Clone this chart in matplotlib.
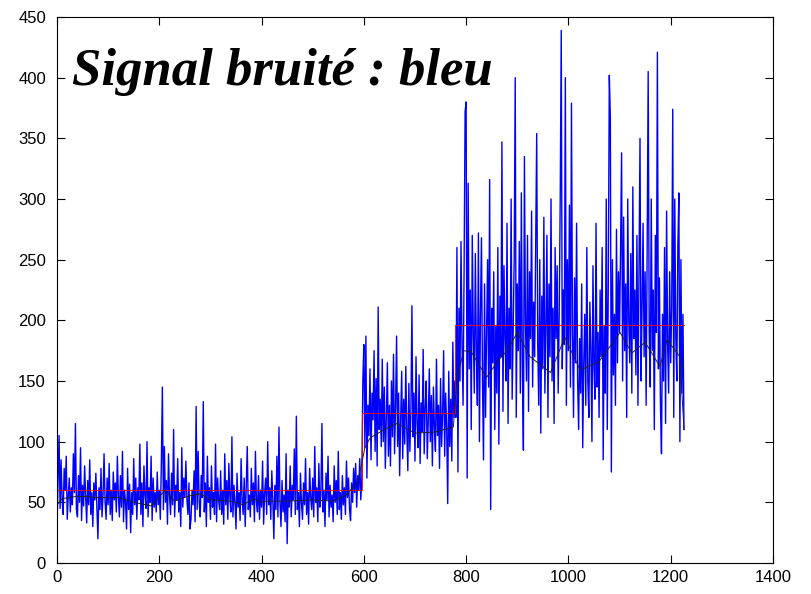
import matplotlib.pyplot as plt

plt.rcParams['font.family'] = ['Liberation Sans Narrow', 'Liberation Sans', 'DejaVu Sans']

# signal bruite, un point tous les 2 echantillons (x = 0, 2, ..., 1226)
step = 2
seg_calme = [
    30, 68, 105, 45, 85, 52, 40, 78, 60, 88, 36, 55, 70, 42, 62, 48, 90, 58, 115, 44,
    38, 72, 50, 95, 35, 64, 47, 80, 55, 33, 68, 48, 85, 40, 58, 30, 66, 52, 74, 45,
    20, 62, 44, 78, 38, 56, 90, 50, 36, 70, 48, 82, 40, 60, 35, 75, 52, 66, 42, 88,
    55, 38, 72, 46, 92, 34, 60, 50, 28, 78, 44, 65, 25, 58, 40, 86, 48, 70, 36, 62,
    52, 98, 40, 66, 30, 80, 56, 45, 100, 38, 62, 50, 88, 35, 70, 46, 58, 42, 75, 48,
    60, 36, 82, 145, 44, 96, 50, 68, 32, 90, 55, 40, 74, 48, 110, 38, 64, 52, 86, 42,
    58, 30, 95, 46, 70, 54, 84, 52, 40, 66, 28, 36, 60, 48, 76, 34, 129, 44, 92, 50,
    38, 72, 54, 133, 42, 66, 30, 88, 50, 62, 36, 80, 46, 58, 40, 98, 34, 70, 52, 44,
    76, 40, 60, 32, 90, 48, 68, 36, 82, 54, 42, 104, 38, 64, 50, 28, 74, 46, 58, 35,
    86, 52, 40, 70, 30, 62, 96, 44, 56, 38, 78, 48, 66, 34, 92, 50, 42, 72, 36, 60,
    46, 84, 32, 58, 70, 40, 100, 48, 62, 36, 76, 52, 20, 64, 44, 88, 38, 112, 50, 30,
    68, 42, 56, 34, 90, 16, 60, 46, 80, 38, 64, 52, 94, 40, 121, 44, 58, 30, 74, 50,
    36, 66, 48, 86, 40, 58, 32, 78, 54, 44, 70, 38, 96, 50, 62, 34, 82, 46, 56, 115,
    42, 60, 30, 74, 52, 88, 38, 64, 46, 56, 34, 80, 50, 68, 40, 92, 44, 58, 36, 72,
    48, 62, 40, 84, 54, 70, 44, 35, 66, 50, 78, 58, 82, 46, 72, 60, 86, 52, 68,
]
seg_moyen = [
    150, 180, 95, 187, 70, 130, 105, 160, 85, 140, 118, 175, 92, 152, 80, 211, 110, 135, 96, 168,
    100, 145, 78, 122, 165, 88, 130, 80, 150, 104, 172, 90, 128, 187, 96, 140, 72, 118, 158, 86,
    135, 98, 162, 110, 76, 148, 92, 125, 212, 104, 140, 84, 170, 115, 95, 155, 82, 132, 108, 176,
    90, 128, 150, 86, 118, 160, 100, 138, 80, 145, 112, 92, 168, 105, 130, 78, 152, 96, 122, 175,
    88, 140, 110, 49, 158, 96, 135, 84, 182, 120, 150,
]
seg_fort = [
    120, 260, 75, 210, 150, 265, 180, 130, 240, 372, 380, 70, 313, 160, 225, 110, 270, 190, 140, 255,
    175, 130, 272, 100, 205, 268, 150, 85, 230, 120, 190, 250, 145, 316, 44, 210, 165, 240, 110, 195,
    140, 260, 98, 220, 170, 347, 125, 245, 185, 150, 280, 115, 210, 160, 300, 135, 190, 250, 400, 120,
    230, 175, 265, 140, 305, 160, 93, 335, 200, 150, 270, 125, 240, 185, 290, 145, 215, 170, 260, 354,
    180, 130, 250, 107, 220, 160, 285, 140, 195, 270, 120, 230, 170, 300, 150, 210, 115, 260, 185, 245,
    140, 205, 300, 439, 160, 225, 180, 400, 130, 250, 175, 295, 145, 379, 190, 120, 235, 165, 280, 150,
    110, 185, 140, 230, 95, 165, 205, 130, 260, 150, 120, 215, 175, 100, 245, 160, 135, 280, 145, 190,
    120, 225, 170, 260, 85, 195, 140, 300, 110, 230, 402, 367, 75, 250, 155, 205, 130, 275, 165, 240,
    190, 260, 338, 150, 285, 175, 230, 120, 300, 200, 165, 255, 140, 310, 185, 225, 155, 270, 130, 240,
    350, 150, 210, 280, 170, 240, 130, 260, 405, 190, 145, 300, 175, 225, 110, 270, 190, 421, 160, 235,
    130, 90, 205, 150, 260, 115, 290, 180, 140, 240, 165, 210, 374, 120, 300, 185, 150, 260, 305, 100,
    250, 140, 205, 110,
]
signal = seg_calme + seg_moyen + seg_fort
x_signal = [i * step for i in range(len(signal))]

# niveaux du signal non bruite (rouge)
niv_x = [0, 597, 778, 1226]
niv_y = [60, 124, 196, 196]

# signal lisse (noir)
lisse_x = [0, 10, 40, 80, 120, 150, 185, 211, 230, 255, 280, 300, 340, 364, 385, 400, 410,
           450, 500, 540, 565, 587, 595, 602, 612, 640, 665, 700, 740, 775, 782, 795, 810,
           840, 863, 880, 900, 925, 965, 993, 1023, 1060, 1101, 1124, 1150, 1179, 1193,
           1218, 1226]
lisse_y = [48, 53, 55, 54, 54, 50, 47, 60, 51, 55, 57, 52, 51, 48, 53, 50, 51,
           51, 52, 51, 56, 66, 80, 95, 103, 110, 115, 107, 108, 112, 151, 175, 174,
           153, 167, 175, 190, 170, 157, 186, 159, 166, 190, 173, 182, 162, 184,
           170, 110]

fig = plt.figure(figsize=(8.11, 5.94), dpi=100)
ax = fig.add_axes([0.0703, 0.0522, 0.8828, 0.9192])

ax.plot(x_signal, signal, color='#0000ff', lw=1.0)
ax.step(niv_x, niv_y, where='post', color='#ff0000', lw=0.6)
ax.plot(lisse_x, lisse_y, color='#202020', lw=0.7)

ax.set_xlim(0, 1400)
ax.set_ylim(0, 450)
ax.set_xticks(range(0, 1401, 200))
ax.set_yticks(range(0, 451, 50))
ax.tick_params(direction='in', top=True, right=True, length=6, width=0.8,
               labelsize=12)
ax.tick_params(axis='y', pad=8)
ax.tick_params(axis='x', pad=5)
for s in ax.spines.values():
    s.set_linewidth(0.8)

ax.text(0.021, 0.875, 'Signal bruité : bleu', transform=ax.transAxes,
        family='Liberation Serif', weight='bold', style='italic', fontsize=38)

plt.savefig('out.png', dpi=100)
